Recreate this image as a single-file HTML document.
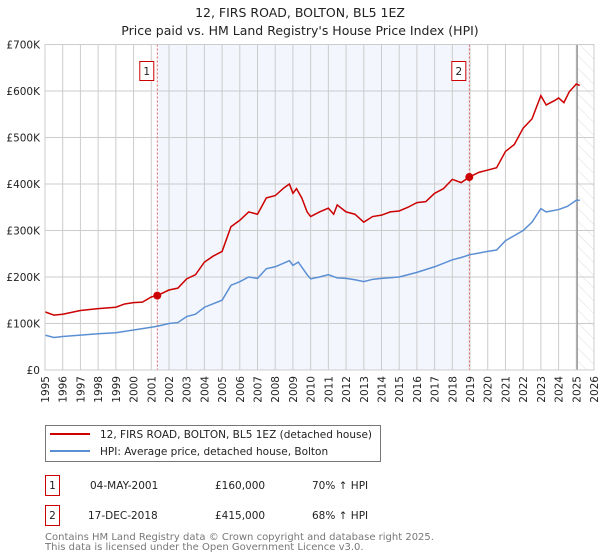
<!DOCTYPE html>
<html><head><meta charset="utf-8"><style>
body{margin:0;background:#fff;font-family:"DejaVu Sans","Liberation Sans",sans-serif;}
svg{display:block}
</style></head><body>
<svg width="600" height="560" xmlns="http://www.w3.org/2000/svg" id="c" font-family="DejaVu Sans, Liberation Sans, sans-serif">
<defs><pattern id="hatch" width="9" height="9" patternUnits="userSpaceOnUse" patternTransform="rotate(-45)"><line x1="0" y1="0" x2="0" y2="9" stroke="#d4d4d4" stroke-width="0.8"/></pattern></defs>
<text x="300" y="17" text-anchor="middle" font-size="12.5" fill="#222">12, FIRS ROAD, BOLTON, BL5 1EZ</text>
<text x="300" y="35" text-anchor="middle" font-size="12.5" fill="#222">Price paid vs. HM Land Registry's House Price Index (HPI)</text>
<g id="plot"></g>
<g>
<rect x="45.5" y="425.5" width="335" height="36" fill="#fff" stroke="#777"/>
<line x1="50" y1="434" x2="90" y2="434" stroke="#cc0000" stroke-width="2"/>
<text x="100" y="438" font-size="10.5" fill="#222">12, FIRS ROAD, BOLTON, BL5 1EZ (detached house)</text>
<line x1="50" y1="451" x2="90" y2="451" stroke="#5b8fd4" stroke-width="2"/>
<text x="100" y="455" font-size="10.5" fill="#222">HPI: Average price, detached house, Bolton</text>
</g>
<g font-size="10.5" fill="#222">
<rect x="45.5" y="475.5" width="14" height="20" fill="#fff" stroke="#cc0000"/>
<text x="52.5" y="489" text-anchor="middle">1</text>
<text x="90" y="489">04-MAY-2001</text>
<text x="215" y="489">£160,000</text>
<text x="312" y="489">70% ↑ HPI</text>
<rect x="45.5" y="505.5" width="14" height="20" fill="#fff" stroke="#cc0000"/>
<text x="52.5" y="519" text-anchor="middle">2</text>
<text x="88" y="519">17-DEC-2018</text>
<text x="215" y="519">£415,000</text>
<text x="312" y="519">68% ↑ HPI</text>
</g>
<text x="45" y="540" font-size="10" fill="#777">Contains HM Land Registry data © Crown copyright and database right 2025.</text>
<text x="45" y="550" font-size="10" fill="#777">This data is licensed under the Open Government Licence v3.0.</text>
</svg>
<script>
const yTicks=[0,100,200,300,400,500,600,700];
const yTickLabels=["£0","£100K","£200K","£300K","£400K","£500K","£600K","£700K"];
const years=[1995,1996,1997,1998,1999,2000,2001,2002,2003,2004,2005,2006,2007,2008,2009,2010,2011,2012,2013,2014,2015,2016,2017,2018,2019,2020,2021,2022,2023,2024,2025,2026];
const saleDates=[2001.34,2018.96];
const salePrices=[160,415];
const saleLabels=["1","2"];
const redT=[1995,1995.5,1996,1997,1998,1999,1999.5,2000,2000.5,2001,2001.34,2002,2002.5,2003,2003.5,2004,2004.5,2005,2005.5,2006,2006.5,2007,2007.5,2008,2008.5,2008.8,2009,2009.2,2009.5,2009.8,2010,2010.5,2011,2011.3,2011.5,2012,2012.5,2013,2013.5,2014,2014.5,2015,2015.5,2016,2016.5,2017,2017.5,2018,2018.5,2018.96,2019.5,2020,2020.5,2021,2021.5,2022,2022.5,2023,2023.3,2023.8,2024,2024.3,2024.6,2025,2025.2];
const redV=[125,118,120,128,132,135,142,145,146,157,160,172,176,196,205,232,245,255,308,322,340,335,370,375,392,400,380,390,370,340,330,340,348,335,355,340,335,318,330,333,340,342,350,360,362,380,390,410,403,415,425,430,435,470,485,520,540,590,570,580,585,575,598,615,612];
const hpiT=[1995,1995.5,1996,1997,1998,1999,2000,2001,2001.34,2002,2002.5,2003,2003.5,2004,2005,2005.5,2006,2006.5,2007,2007.5,2008,2008.8,2009,2009.3,2009.8,2010,2010.5,2011,2011.5,2012,2012.5,2013,2013.5,2014,2015,2016,2017,2018,2018.5,2019,2020,2020.5,2021,2022,2022.5,2023,2023.3,2024,2024.5,2025,2025.2];
const hpiV=[75,70,72,75,78,80,86,92,94,100,102,115,120,135,150,182,190,200,197,218,222,235,225,232,205,196,200,205,198,197,194,190,195,197,200,210,222,237,242,248,255,258,278,300,318,347,340,345,352,365,365];
const L=45,R=594,T=44.5,B=370;
const X=t=>L+(t-1995)/(2026-1995)*(R-L);
const Y=v=>B-v/700*(B-T);
const NS="http://www.w3.org/2000/svg";
const g=document.getElementById('plot');
function mk(tag,attrs){const e=document.createElementNS(NS,tag);for(const k in attrs)e.setAttribute(k,attrs[k]);g.appendChild(e);return e;}
let e;
e=mk('rect',{x:L,y:T,width:R-L,height:B-T,fill:'#fff'});


e=mk('rect',{x:X(saleDates[0]),y:T,width:X(saleDates[1])-X(saleDates[0]),height:B-T,fill:'#f3f6fd'});


e=mk('rect',{x:X(2025.05),y:T,width:R-X(2025.05),height:B-T,fill:'url(#hatch)'});


years.forEach(yr=>{
 e=mk('line',{x1:X(yr),x2:X(yr),y1:T,y2:B,stroke:'#ccc','stroke-width':1});
 
 
 e=mk('text',{x:0,y:0,transform:`translate(${X(yr)+4},376) rotate(-90)`,'text-anchor':'end','font-size':10.5,fill:'#222'});
 e.textContent=yr;
 
 
});
yTicks.forEach((v,i)=>{
 e=mk('line',{x1:L,x2:R,y1:Y(v),y2:Y(v),stroke:'#ccc','stroke-width':1});
 
 
 e=mk('text',{x:L-5,y:Y(v)+4,'text-anchor':'end','font-size':10.5,fill:'#222'});
 e.textContent=yTickLabels[i];
 
 
});
e=mk('line',{x1:X(2025.05),x2:X(2025.05),y1:T,y2:B,stroke:'#888','stroke-width':1.2});


saleDates.forEach((d,i)=>{
 e=mk('line',{x1:X(d),x2:X(d),y1:T,y2:B,stroke:'#e06060','stroke-width':1,'stroke-dasharray':'2,2'});
 
 
});
e=mk('polyline',{points:hpiT.map((t,i)=>X(t)+','+Y(hpiV[i])).join(' '),fill:'none',stroke:'#5b8fd4','stroke-width':1.5});


e=mk('polyline',{points:redT.map((t,i)=>X(t)+','+Y(redV[i])).join(' '),fill:'none',stroke:'#cc0000','stroke-width':1.5});


saleDates.forEach((d,i)=>{
 e=mk('circle',{cx:X(d),cy:Y(salePrices[i]),r:4,fill:'#cc0000'});
 
 
 e=mk('rect',{x:X(d)-17.5,y:61.5,width:14,height:19,fill:'#fff',stroke:'#cc0000'});
 
 
 e=mk('text',{x:X(d)-10.5,y:75,'text-anchor':'middle','font-size':10.5,fill:'#222'});
 e.textContent=saleLabels[i];
 
 
});
e=mk('rect',{x:L,y:T,width:R-L,height:B-T,fill:'none',stroke:'#ccc'});


</script>
</body></html>
